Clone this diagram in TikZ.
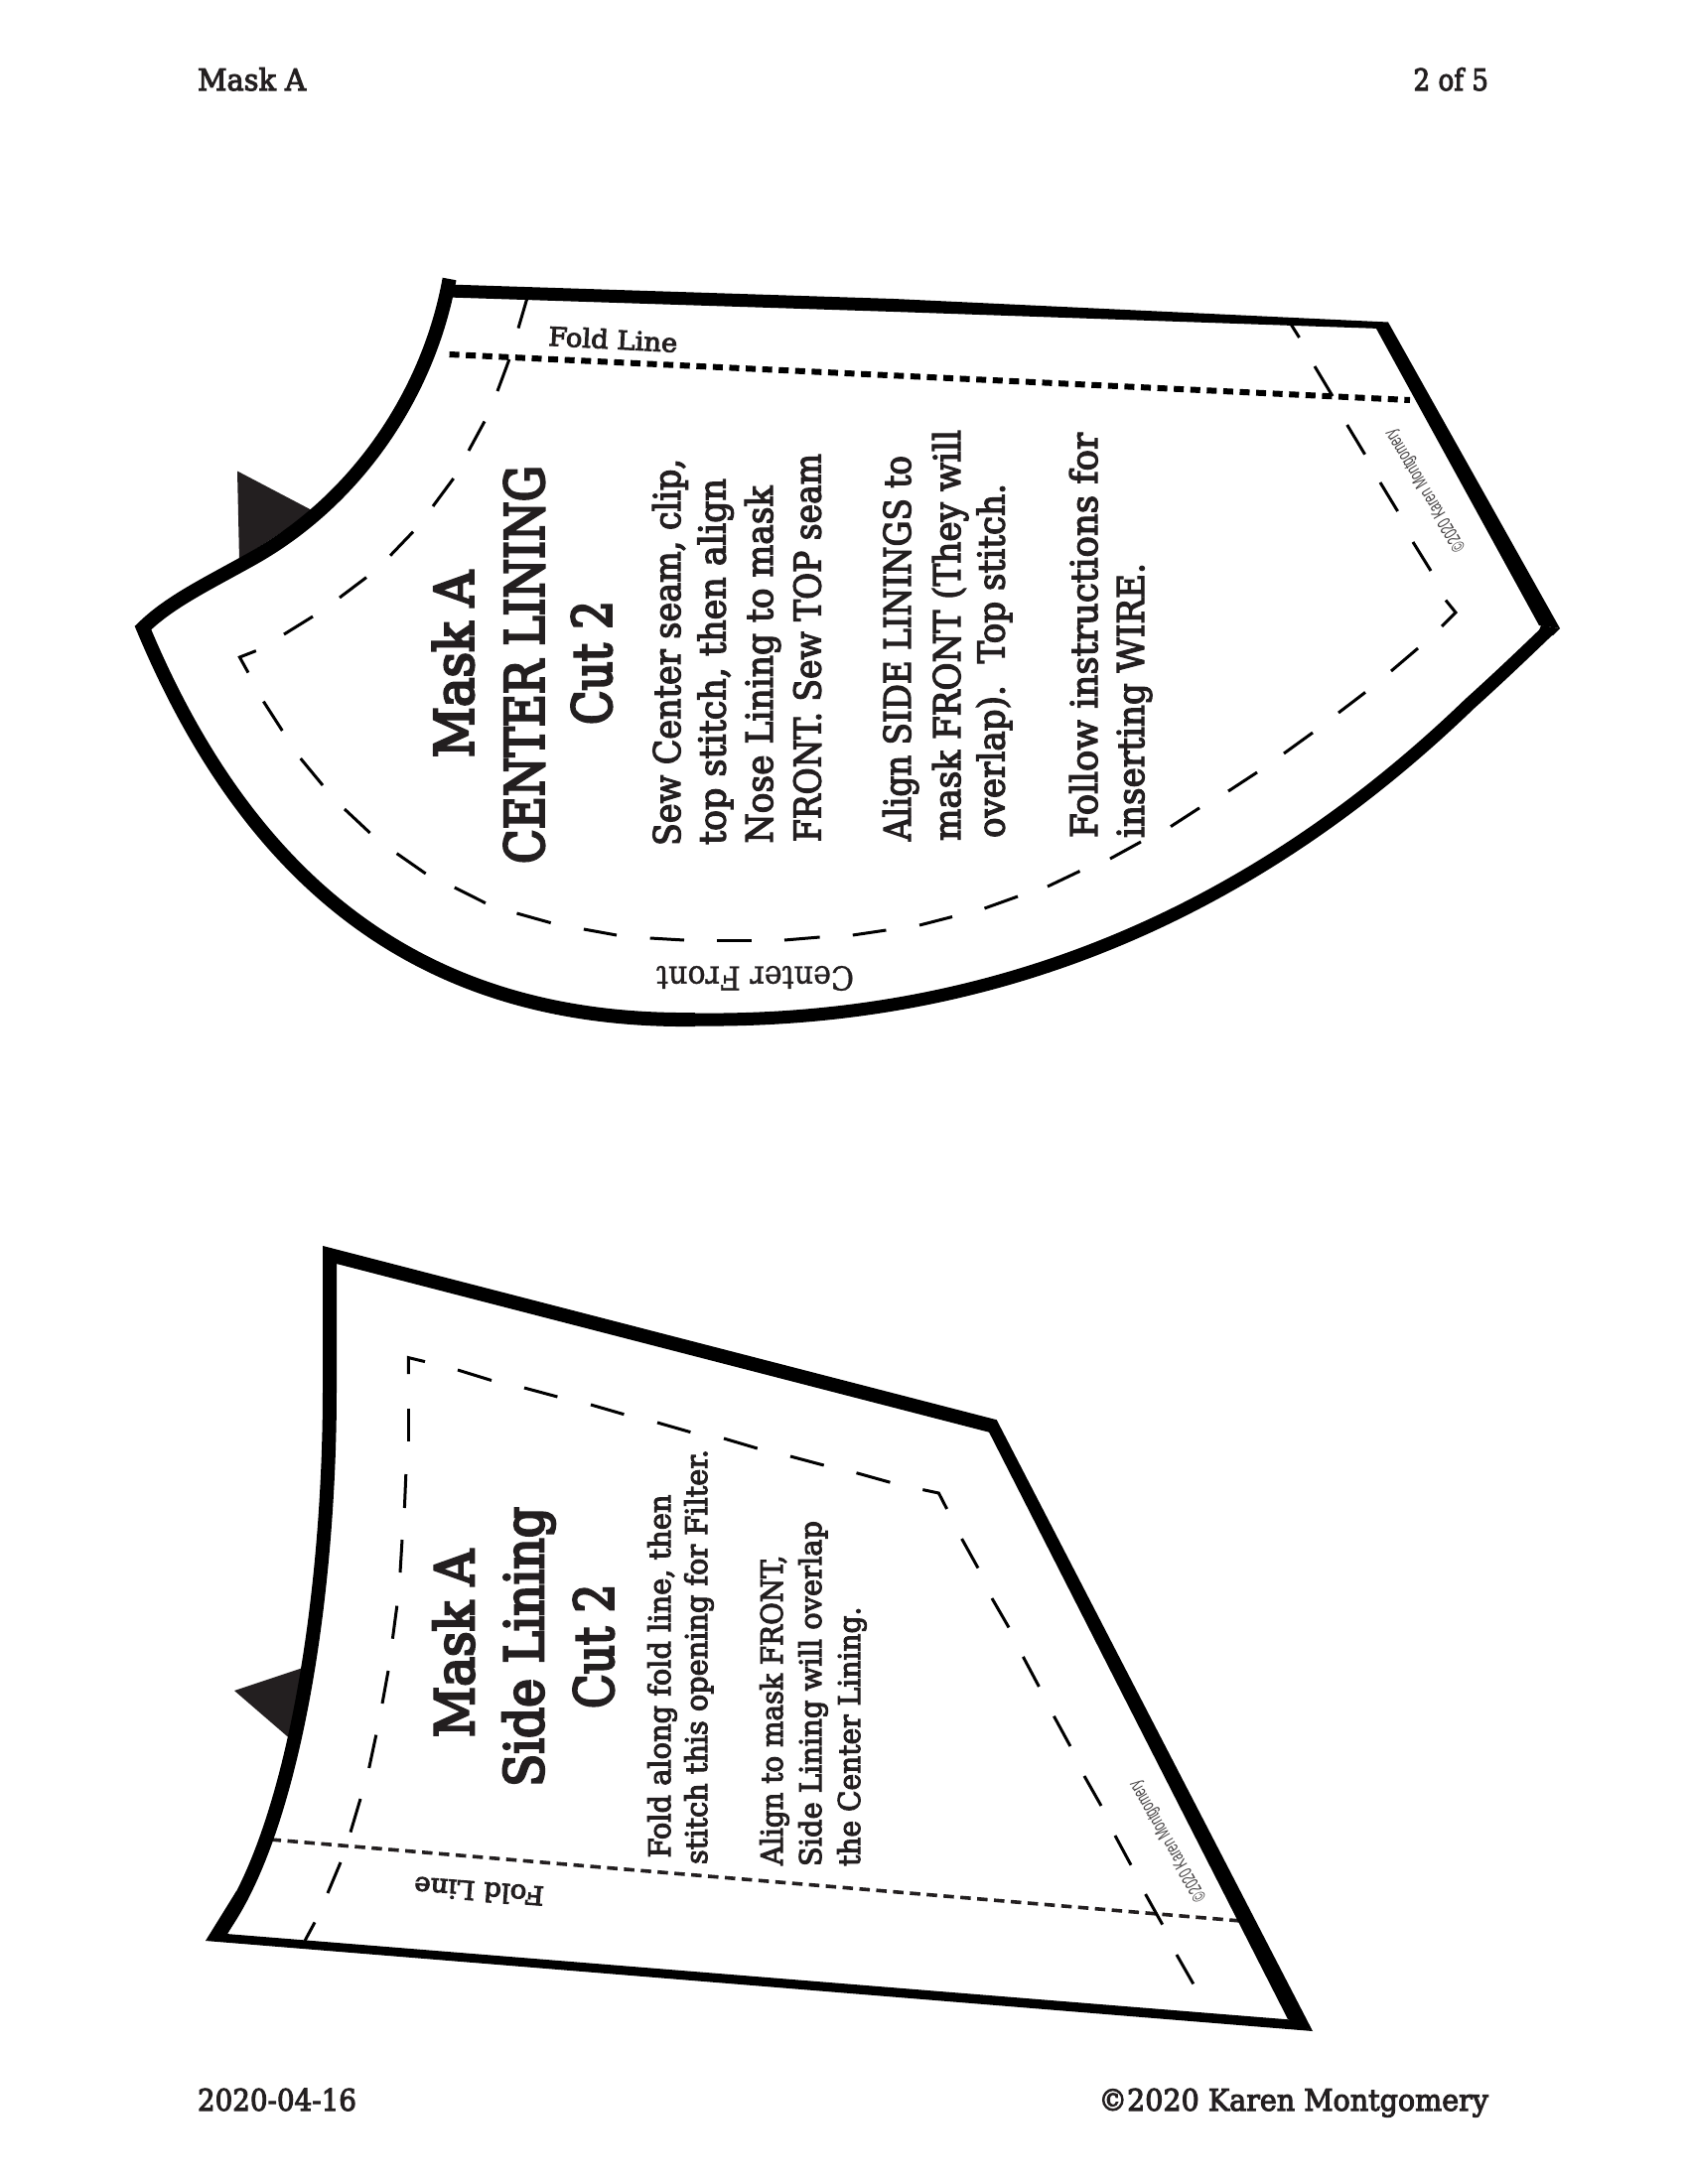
\documentclass[tikz,border=0pt]{standalone}
\usepackage{fontspec}
\usepackage{graphicx}
\setmainfont{DejaVu Serif}
\newfontfamily\bodyfont{DejaVu Serif}[FakeBold=3.5]
\newfontfamily\headfont{DejaVu Serif}[FakeBold=5]
\newfontfamily\lightfont{DejaVu Serif}[FakeBold=1]
\newfontfamily\thinsans{Liberation Sans}
\definecolor{ink}{HTML}{231F20}
\tikzset{
  x=1pt,y=-1pt,
  edgeline/.style={draw=black,line width=14pt,line join=miter,miter limit=12,line cap=butt},
  edgetail/.style={draw=black,line width=13pt,line cap=butt},
  solidpart/.style={fill=black,draw=none},
  notch/.style={fill=ink,draw=none},
  stitch/.style={draw=black,line width=3pt,line cap=butt,line join=miter},
  foldthick/.style={draw=black,line width=6pt,dash pattern=on 10pt off 6.6pt},
  foldthin/.style={draw=ink,line width=3.6pt,dash pattern=on 10.5pt off 6.5pt},
  txt/.style={inner sep=0pt,outer sep=0pt,anchor=base west,text=ink},
}
% name, x, y, rotation, font size, target width, text
\newcommand{\lbl}[7]{\node[txt,rotate=#4] (#1) at (#2,#3) {\bodyfont\fontsize{#5}{#5}\selectfont\resizebox{#6pt}{\height}{#7}};}
\newcommand{\hlbl}[7]{\node[txt,rotate=#4] (#1) at (#2,#3) {\headfont\fontsize{#5}{#5}\selectfont\resizebox{#6pt}{\height}{#7}};}
\newcommand{\llbl}[7]{\node[txt,rotate=#4] (#1) at (#2,#3) {\lightfont\fontsize{#5}{#5}\selectfont\resizebox{#6pt}{\height}{#7}};}
\begin{document}
\begin{tikzpicture}
\useasboundingbox (0,0) rectangle (1700,2200);
\fill[white] (0,0) rectangle (1700,2200);

% ---------- page labels
\lbl{hA}{199}{91}{0}{30}{109}{Mask A}
\lbl{hB}{1423.5}{91}{0}{30}{75.5}{2 of 5}
\lbl{fA}{199}{2126}{0}{30}{160}{2020-04-16}
\lbl{fB}{1106.5}{2126}{0}{30}{392.5}{©2020 Karen Montgomery}

% ---------- upper piece
\fill[notch] (239,474.5) -- (241,564) -- (316,515) -- cycle;
\draw[foldthick] (452.6,357) -- (1420,403);
\draw[edgeline] (452.6,281) .. controls (432,395) and (360,505) .. (250,565)
  .. controls (205,590) and (170,607) .. (144,632.5)
  .. controls (262,915) and (450,1030) .. (700,1027);
\draw[edgetail] (690,1027) -- (700,1027) .. controls (960,1030) and (1230,950) .. (1480,709)
  .. controls (1510,682) and (1535,658) .. (1560,634);
\fill[solidpart] (451,286.5) -- (900,301) -- (1398,324.5) -- (1390,331) -- (900,314) -- (451,299.5) -- cycle;
\fill[solidpart] (1398,324.5) -- (1571,633) -- (1550,630) -- (1386,331) -- cycle;
\fill[solidpart] (1571,633) -- (1552,630) -- (1548,640) -- (1564,640) -- cycle;
\foreach \a/\b/\c/\d in {530.7/301/522/330.6, 512.9/362/501/394, 488/424.5/472/454, 456.7/482/436/510, 416/535.7/393/559.7, 369/581.6/342/602, 315/621/286/639, 265.4/706.6/284.3/736, 302.7/764/325/791, 347/815/372.6/839, 399.6/859.7/428.7/880, 457.8/894/489/909.7, 520.5/920/554.7/929.6, 587.9/936/621/942, 654.7/945/689/947, 722/947.5/756.7/947.5, 790/947/825.6/944, 858.8/942/892.4/937, 926/932/959/923.5, 991.5/915/1025/903, 1055/893/1087.5/877.5, 1118/865/1149/848, 1179/832.6/1208/813.8, 1237/797/1266/778, 1293/759/1322/738, 1348/718/1375/697.4, 1401/676/1428/653, 1441/575/1423/546, 1407.6/515/1390/486, 1374.6/457.7/1356.7/428, 1342/399/1324/369, 1308.5/340/1300/326.5}
  \draw[stitch] (\a,\b) -- (\c,\d);
\draw[stitch] (257.8,655.6) -- (241.4,662) -- (250,677.6);
\draw[stitch] (1452,631) -- (1466,617) -- (1456,604.6);

\hlbl{a1}{476.5}{763}{90}{54}{188}{Mask A}
\hlbl{a2}{547.5}{870}{90}{54}{401}{CENTER LINING}
\hlbl{a3}{615.5}{730}{90}{54}{125}{Cut 2}
\lbl{a4}{685}{852}{90}{37}{390}{Sew Center seam, clip,}
\lbl{a5}{730.5}{851}{90}{37}{369}{top stitch, then align}
\lbl{a6}{778}{849.5}{90}{37}{360}{Nose Lining to mask}
\lbl{a7}{826.5}{848}{90}{37}{391}{FRONT. Sew TOP seam}
\lbl{a8}{917}{847}{90}{37}{388}{Align SIDE LININGS to}
\lbl{a9}{967}{847}{90}{37}{414}{mask FRONT (They will}
\lbl{a10}{1011.5}{844}{90}{37}{357}{overlap).\ \ Top stitch.}
\lbl{a11}{1105}{844}{90}{37}{408}{Follow instructions for}
\lbl{a12}{1152}{844}{90}{37}{277}{inserting WIRE.}
\lbl{a13}{552}{348}{-3}{26}{130}{Fold Line}
\llbl{a14}{860}{973.5}{180}{33}{199}{Center Front}
\node[txt,rotate=121,text=ink!85] (a15) at (1476,551) {\fontsize{19}{19}\thinsans\resizebox{140pt}{\height}{©2020 Karen Montgomery}};

% ---------- lower piece
\fill[notch] (236,1703) -- (305,1680) -- (290.4,1750) -- cycle;
\draw[foldthin] (272.6,1853) -- (1257,1935.6);
\draw[edgeline] (222,1945) .. controls (292,1850) and (332,1620) .. (332,1400)
  -- (332,1264) -- (1002,1437);
\fill[solidpart] (207,1955) -- (238,1905) -- (250,1912) -- (228,1950) -- cycle;
\fill[solidpart] (207,1955) -- (1322,2046) -- (1300,2034.5) -- (228,1948) -- cycle;
\fill[solidpart] (1003.6,1430) -- (1322,2046) -- (1297,2034) -- (995.7,1442) -- cycle;
\foreach \a/\b/\c/\d in {411/1418.6/411/1451.7, 408.8/1485/407.4/1519, 405/1551/403/1584, 399.8/1617.6/395.4/1650.7, 391/1683/385/1716, 378.8/1747.6/371.7/1781, 363/1812/353/1845.6, 343/1876/330/1907, 317/1936.4/307/1955, 461/1380/495/1390.5, 528/1398/561.4/1407, 595/1415/628.4/1424.7, 662/1433/695.4/1442.6, 729/1449/762.8/1459, 796/1467/829.7/1476, 862.5/1483.7/896.4/1493.2, 968.6/1550/985/1579.5, 999/1610/1016/1639.4, 1030.4/1668.9/1046.4/1699, 1061.4/1728.7/1077.9/1759, 1092/1789/1109/1819, 1123/1849/1139/1878.7, 1153.6/1908/1170.7/1938.6, 1185/1969/1201.8/1998.4}
  \draw[stitch] (\a,\b) -- (\c,\d);
\draw[stitch] (428,1371.6) -- (411.4,1367.6) -- (411.4,1384);
\draw[stitch] (929.3,1500.6) -- (945.4,1504) -- (953.6,1520);

\hlbl{b1}{477}{1750}{90}{54}{189}{Mask A}
\hlbl{b2}{547}{1800}{90}{54}{282}{Side Lining}
\hlbl{b3}{617.5}{1721}{90}{54}{125.5}{Cut 2}
\lbl{b4}{675}{1871.5}{90}{30}{366}{Fold along fold line, then}
\lbl{b5}{712}{1878}{90}{30}{418}{stitch this opening for Filter.}
\lbl{b6}{788}{1879}{90}{30}{312.5}{Align to mask FRONT,}
\lbl{b7}{827}{1880}{90}{30}{348}{Side Lining will overlap}
\lbl{b8}{866}{1880}{90}{30}{261.5}{the Center Lining.}
\lbl{b9}{548.5}{1900.7}{175.6}{26}{131}{Fold Line}
\node[txt,rotate=120,text=ink!85] (b10) at (1215,1911) {\fontsize{19}{19}\thinsans\resizebox{137pt}{\height}{©2020 Karen Montgomery}};
\end{tikzpicture}
\end{document}
